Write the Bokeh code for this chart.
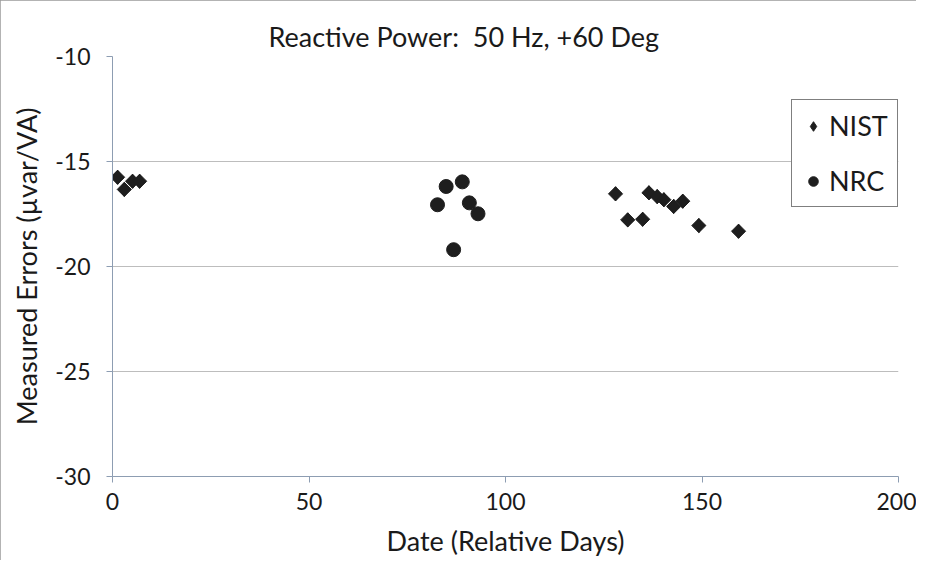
from bokeh.plotting import figure
from bokeh.models import Legend, LegendItem, FixedTicker, Title, PrintfTickFormatter
from bokeh.embed import file_html
from bokeh.resources import INLINE
import math

# ---- data ----
nist_days = [1.3, 3.0, 5.1, 6.9, 128.0, 131.1, 134.9, 136.5, 138.6, 140.3, 142.8, 145.1, 149.2, 159.3]
nist_err = [-15.75, -16.33, -15.94, -15.94, -16.54, -17.78, -17.75, -16.49, -16.67, -16.82, -17.14, -16.89, -18.05, -18.32]
nrc_days = [82.7, 84.9, 86.8, 89.0, 90.8, 93.0]
nrc_err = [-17.06, -16.19, -19.2, -15.97, -16.97, -17.49]
x_ticks = [0, 50, 100, 150, 200]
y_ticks = [-30, -25, -20, -15, -10]

FONT = "Lato"
TXT = "#1a1a1a"
MK = "#1e1e1e"

p = figure(width=916, height=560, x_range=(0, 200), y_range=(-30, -10),
           output_backend="svg", toolbar_location=None,
           min_border_left=112, min_border_right=18, min_border_top=56, min_border_bottom=84)
p.styles = {"outline": "1px solid #9a9a9a", "outline-offset": "-1px"}
p.outline_line_color = None
p.background_fill_color = "white"
p.border_fill_color = "white"

t = Title(text="Reactive Power:\u00a0 50 Hz, +60 Deg", align="left", offset=156,
          text_font=FONT, text_font_size="27px", text_font_style="normal",
          text_color=TXT, standoff=8)
p.add_layout(t, "above")

p.xgrid.grid_line_color = None
p.ygrid.grid_line_color = "#bdbdbd"
p.ygrid.grid_line_width = 1

for ax in (p.xaxis[0], p.yaxis[0]):
    ax.axis_line_color = "#8d9db2"
    ax.major_tick_line_color = "#8d9db2"
    ax.minor_tick_line_color = None
    ax.major_tick_in = 0
    ax.major_tick_out = 6
    ax.major_label_text_font = FONT
    ax.major_label_text_font_size = "23px"
    ax.major_label_text_color = TXT
    ax.axis_label_text_font = FONT
    ax.axis_label_text_font_size = "27px"
    ax.axis_label_text_font_style = "normal"
    ax.axis_label_text_color = TXT
    ax.formatter = PrintfTickFormatter(format="%d")

p.xaxis.ticker = FixedTicker(ticks=x_ticks)
p.yaxis.ticker = FixedTicker(ticks=y_ticks)
p.xaxis.axis_label = "Date (Relative Days)"
p.yaxis.axis_label = "Measured Errors (µvar/VA)"
p.xaxis.major_label_standoff = 10
p.yaxis.major_label_standoff = 16
p.xaxis.axis_label_standoff = 11
p.yaxis.axis_label_standoff = 9

# NIST: diamond (used for the legend) covered by a rotated square (drawn shape)
r_nist = p.scatter(nist_days, nist_err, marker="diamond", size=14,
                   fill_color=MK, line_color=MK)
p.scatter(nist_days, nist_err, marker="square", size=10, angle=math.pi / 4,
          fill_color=MK, line_color=MK)
r_nrc = p.scatter(nrc_days, nrc_err, marker="circle", size=14,
                  fill_color=MK, line_color=MK)

legend = Legend(items=[LegendItem(label="NIST", renderers=[r_nist]),
                       LegendItem(label="NRC", renderers=[r_nrc])],
                location=(679, 269), orientation="vertical")
legend.border_line_color = "black"
legend.border_line_width = 1
legend.background_fill_color = "white"
legend.background_fill_alpha = 1
legend.label_text_font = FONT
legend.label_text_font_size = "27px"
legend.label_text_color = TXT
legend.glyph_width = 24
legend.glyph_height = 30
legend.label_height = 30
legend.label_standoff = 4
legend.spacing = 22
legend.padding = 9
legend.margin = 0
p.add_layout(legend)

open("out.html", "w").write(file_html(p, INLINE))
